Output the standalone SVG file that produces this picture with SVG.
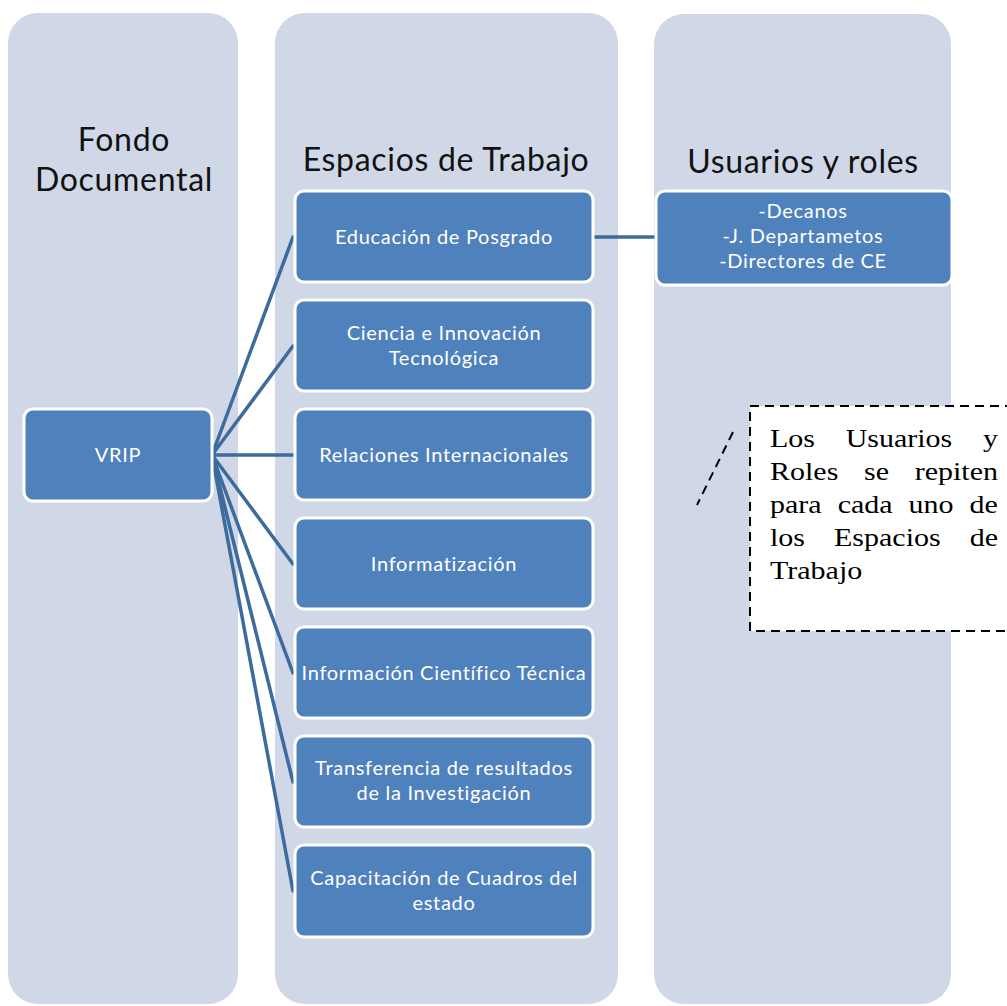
<svg xmlns="http://www.w3.org/2000/svg" width="1007" height="1006" viewBox="0 0 1007 1006">
  <style>
    .col { fill: #D0D8E8; }
    .box { fill: #4F81BD; stroke: #FFFFFF; stroke-width: 3; }
    .title { font-family: Lato, "Liberation Sans", sans-serif; font-size: 32px; letter-spacing: 0.7px; fill: #111111; text-anchor: middle; }
    .lbl { font-family: Lato, "Liberation Sans", sans-serif; font-size: 20px; letter-spacing: 0.7px; fill: #FFFFFF; text-anchor: middle; }
    .link { stroke: #3E6B9D; stroke-width: 3.5; fill: none; stroke-linecap: round; }
    .note { font-family: "Liberation Serif", "Times New Roman", serif; font-size: 25px; fill: #000000; }
    .dash { stroke: #000000; stroke-width: 2; stroke-dasharray: 9 6; fill: none; }
  </style>

  <rect width="1007" height="1006" fill="#FFFFFF"/>

  <!-- column backgrounds and headings -->
  <g id="columns">
    <rect class="col" x="8" y="13" width="230" height="991" rx="30"/>
    <rect class="col" x="275" y="13" width="343" height="991" rx="30"/>
    <rect class="col" x="654" y="14" width="297" height="990" rx="30"/>
    <text class="title" x="124" y="151">Fondo</text>
    <text class="title" x="124" y="191">Documental</text>
    <text class="title" x="446" y="171">Espacios de Trabajo</text>
    <text class="title" x="803" y="173">Usuarios y roles</text>
  </g>

  <!-- connectors -->
  <g id="connectors">
    <line class="link" x1="212" y1="455" x2="293" y2="237"/>
    <line class="link" x1="212" y1="455" x2="293" y2="346"/>
    <line class="link" x1="212" y1="455" x2="293" y2="455"/>
    <line class="link" x1="212" y1="455" x2="293" y2="564"/>
    <line class="link" x1="212" y1="455" x2="293" y2="673"/>
    <line class="link" x1="212" y1="455" x2="293" y2="782"/>
    <line class="link" x1="212" y1="455" x2="293" y2="891"/>
    <line class="link" x1="594" y1="237" x2="656" y2="237"/>
  </g>

  <g id="vrip">
    <rect class="box" x="24" y="409" width="188" height="92" rx="9"/>
    <text class="lbl" x="118" y="462">VRIP</text>
  </g>

  <g id="educacion">
    <rect class="box" x="295" y="191" width="298" height="91" rx="9"/>
    <text class="lbl" x="444" y="244">Educación de Posgrado</text>
  </g>

  <g id="ciencia">
    <rect class="box" x="295" y="300" width="298" height="91" rx="9"/>
    <text class="lbl" x="444" y="340">Ciencia e Innovación</text>
    <text class="lbl" x="444" y="365">Tecnológica</text>
  </g>

  <g id="relaciones">
    <rect class="box" x="295" y="409" width="298" height="91" rx="9"/>
    <text class="lbl" x="444" y="462">Relaciones Internacionales</text>
  </g>

  <g id="informatizacion">
    <rect class="box" x="295" y="518" width="298" height="91" rx="9"/>
    <text class="lbl" x="444" y="571">Informatización</text>
  </g>

  <g id="informacion">
    <rect class="box" x="295" y="627" width="298" height="91" rx="9"/>
    <text class="lbl" x="444" y="680">Información Científico Técnica</text>
  </g>

  <g id="transferencia">
    <rect class="box" x="295" y="736" width="298" height="91" rx="9"/>
    <text class="lbl" x="444" y="775">Transferencia de resultados</text>
    <text class="lbl" x="444" y="800">de la Investigación</text>
  </g>

  <g id="capacitacion">
    <rect class="box" x="295" y="845" width="298" height="92" rx="9"/>
    <text class="lbl" x="444" y="885">Capacitación de Cuadros del</text>
    <text class="lbl" x="444" y="910">estado</text>
  </g>

  <g id="usuarios">
    <rect class="box" x="656" y="191" width="296" height="94" rx="9"/>
    <text class="lbl" x="803" y="218">-Decanos</text>
    <text class="lbl" x="803" y="243">-J. Departametos</text>
    <text class="lbl" x="803" y="268">-Directores de CE</text>
  </g>

  <!-- note callout: justified serif text, glyphs widened 1.2x -->
  <g id="nota">
    <line class="dash" x1="733" y1="432" x2="697" y2="505"/>
    <rect class="dash" x="750" y="406" width="300" height="225" style="fill:#FFFFFF"/>
    <g transform="translate(770,0) scale(1.2,1)">
      <text class="note" x="0" y="447" word-spacing="19.3">Los Usuarios y</text>
      <text class="note" x="0" y="480" word-spacing="15.15">Roles se repiten</text>
      <text class="note" x="0" y="513" word-spacing="7.1">para cada uno de</text>
      <text class="note" x="0" y="546" word-spacing="17.95">los Espacios de</text>
      <text class="note" x="0" y="579">Trabajo</text>
    </g>
  </g>
</svg>
